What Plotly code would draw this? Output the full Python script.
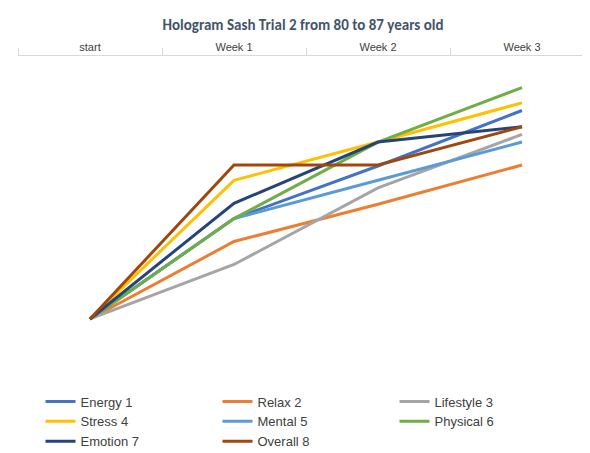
import plotly.graph_objects as go

weeks = ['start', 'Week 1', 'Week 2', 'Week 3']
names = ['Energy 1', 'Relax 2', 'Lifestyle 3', 'Stress 4',
         'Mental 5', 'Physical 6', 'Emotion 7', 'Overall 8']
colors = ['#4472C4', '#ED7D31', '#A5A5A5', '#FFC000',
          '#5B9BD5', '#70AD47', '#264478', '#9E480E']

energy = [0, 105, 160, 218]
relax = [0, 81, 120, 161]
lifestyle = [0, 57, 137, 193]
stress = [0, 145, 185, 226]
mental = [0, 105, 145, 185]
physical = [0, 105, 185, 242]
emotion = [0, 121, 185, 201]
overall = [0, 161, 161, 201]
series = [energy, relax, lifestyle, stress, mental, physical, emotion, overall]

fig = go.Figure()
for name, vals, col in zip(names, series, colors):
    fig.add_trace(go.Scatter(x=weeks, y=vals, name=name, mode='lines',
                             line=dict(color=col, width=3)))

fig.update_layout(
    width=590, height=453,
    paper_bgcolor='white', plot_bgcolor='white',
    margin=dict(l=10, r=4, t=48, b=83),
    title=dict(text='<b>Hologram Sash Trial 2 from 80 to 87 years old</b>',
               x=0.5, y=0.975, xanchor='center',
               font=dict(family='Calibri, Liberation Sans, sans-serif', size=15, color='#44546A')),
    font=dict(family='Liberation Sans, sans-serif', color='#404040'),
    legend=dict(orientation='h', x=0.5, xanchor='center', y=-0.08, yanchor='top',
                entrywidth=132, font=dict(size=13, color='#404040')),
    showlegend=True,
)
fig.update_xaxes(side='top', type='category', tickson='boundaries', range=[-0.5, 3.5],
                 showgrid=False, showline=True, linecolor='#D9D9D9',
                 ticks='outside', ticklen=7, tickcolor='#D9D9D9',
                 tickfont=dict(size=11, color='#404040'))
fig.update_yaxes(range=[-45, 275], visible=False)

fig.write_html('out.html')
